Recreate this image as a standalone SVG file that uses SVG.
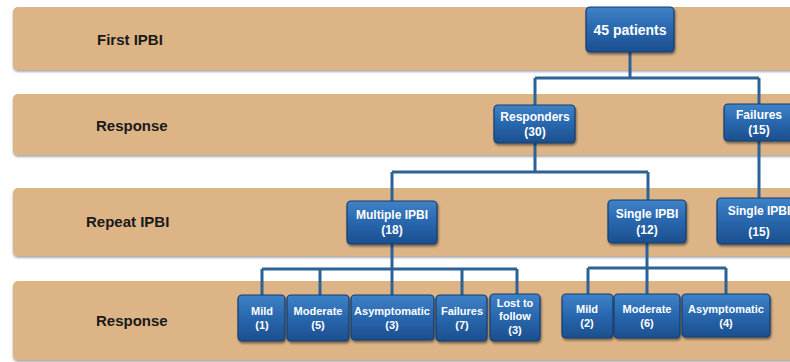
<svg xmlns="http://www.w3.org/2000/svg" width="790" height="362" viewBox="0 0 790 362">
<defs>
<linearGradient id="ng" x1="0" y1="0" x2="0" y2="1">
<stop offset="0" stop-color="#3f82c8"/>
<stop offset="0.45" stop-color="#2a69b0"/>
<stop offset="1" stop-color="#1c4f8e"/>
</linearGradient>
<filter id="sh" x="-10%" y="-10%" width="120%" height="140%">
<feDropShadow dx="1" dy="2" stdDeviation="1.2" flood-color="#000" flood-opacity="0.45"/>
</filter>
<filter id="bsh" x="-5%" y="-10%" width="110%" height="130%">
<feDropShadow dx="0" dy="2" stdDeviation="1.2" flood-color="#555" flood-opacity="0.5"/>
</filter>
</defs>
<style>
.band{fill:#dcb485;filter:url(#bsh)}
.lbl{font-family:"Liberation Sans",Arial,sans-serif;font-weight:bold;font-size:15px;fill:#1a1a1a}
.node rect{fill:url(#ng);stroke:#123e70;stroke-width:1.2;filter:url(#sh)}
.node text{font-family:"Liberation Sans",Arial,sans-serif;font-weight:bold;fill:#fff;text-anchor:middle}
.t14{font-size:14px}
.t12{font-size:12px}
.t11{font-size:11px}
.conn{fill:none;stroke:#2c6397;stroke-width:3}
</style>
<rect width="790" height="362" fill="#fff"/>
<g id="bands">
<rect class="band" x="13" y="7" width="800" height="63" rx="5"/>
<rect class="band" x="13" y="94" width="800" height="61" rx="5"/>
<rect class="band" x="13" y="188" width="800" height="68" rx="5"/>
<rect class="band" x="13" y="281" width="800" height="79" rx="5"/>
<text class="lbl" x="97" y="45">First IPBI</text>
<text class="lbl" x="96" y="131">Response</text>
<text class="lbl" x="86" y="227">Repeat IPBI</text>
<text class="lbl" x="96" y="326">Response</text>
</g>
<g id="connectors">
<path class="conn" d="M630 52V78M535 78H759M535 78V105M759 78V104"/>
<path class="conn" d="M535 143V172M392 172H648M392 172V201M648 172V200M759 141V198"/>
<path class="conn" d="M392 244V269M262 269H517M262 269V295M320 269V295M392 269V295M462 269V295M517 269V294"/>
<path class="conn" d="M647 243V268M588 268H726M588 268V294M647 268V294M726 268V294"/>
</g>
<g id="n45" class="node"><rect x="586" y="7" width="88" height="45" rx="4"/><text class="t14" x="630" y="35">45 patients</text></g>
<g id="responders" class="node"><rect x="494" y="105" width="81" height="38" rx="4"/><text class="t12" x="535" y="121">Responders</text><text class="t12" x="535" y="136">(30)</text></g>
<g id="failures" class="node"><rect x="724" y="104" width="80" height="37" rx="4"/><text class="t12" x="759" y="119">Failures</text><text class="t12" x="759" y="134">(15)</text></g>
<g id="multiple" class="node"><rect x="347" y="201" width="90" height="43" rx="4"/><text class="t12" x="392" y="219">Multiple IPBI</text><text class="t12" x="392" y="234">(18)</text></g>
<g id="single12" class="node"><rect x="608" y="200" width="78" height="43" rx="4"/><text class="t12" x="647" y="218">Single IPBI</text><text class="t12" x="647" y="234">(12)</text></g>
<g id="single15" class="node"><rect x="717" y="198" width="85" height="46" rx="4"/><text class="t12" x="759" y="215">Single IPBI</text><text class="t12" x="759" y="236">(15)</text></g>
<g id="mild1" class="node"><rect x="238" y="295" width="47" height="46" rx="4"/><text class="t11" x="262" y="315">Mild</text><text class="t11" x="262" y="329">(1)</text></g>
<g id="moderate5" class="node"><rect x="287" y="295" width="62" height="46" rx="4"/><text class="t11" x="318" y="315">Moderate</text><text class="t11" x="318" y="329">(5)</text></g>
<g id="asym3" class="node"><rect x="351" y="295" width="83" height="45" rx="4"/><text class="t11" x="392" y="315">Asymptomatic</text><text class="t11" x="392" y="329">(3)</text></g>
<g id="failures7" class="node"><rect x="436" y="295" width="51" height="46" rx="4"/><text class="t11" x="462" y="315">Failures</text><text class="t11" x="462" y="329">(7)</text></g>
<g id="lost3" class="node"><rect x="490" y="294" width="50" height="47" rx="4"/><text class="t11" x="515" y="307">Lost to</text><text class="t11" x="515" y="320">follow</text><text class="t11" x="515" y="334">(3)</text></g>
<g id="mild2" class="node"><rect x="562" y="294" width="51" height="44" rx="4"/><text class="t11" x="587" y="313">Mild</text><text class="t11" x="587" y="327">(2)</text></g>
<g id="moderate6" class="node"><rect x="614" y="294" width="66" height="44" rx="4"/><text class="t11" x="647" y="313">Moderate</text><text class="t11" x="647" y="327">(6)</text></g>
<g id="asym4" class="node"><rect x="682" y="294" width="88" height="43" rx="4"/><text class="t11" x="726" y="313">Asymptomatic</text><text class="t11" x="726" y="327">(4)</text></g>
</svg>
